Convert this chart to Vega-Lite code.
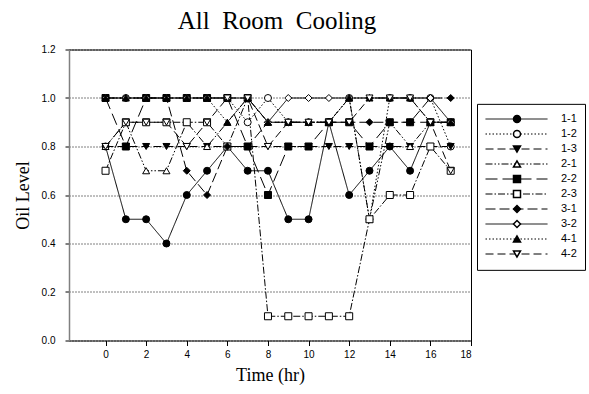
{
"$schema":"https://vega.github.io/schema/vega-lite/v6.json",
"width":402,"height":291,
"autosize":"none",
"padding":{"left":69,"top":49.5,"right":118,"bottom":53.5},
"background":"white",
"config":{
 "view":{"stroke":null},
 "axis":{"labelFont":"Liberation Sans","labelFontSize":10,"labelColor":"black","tickColor":"black","domainColor":"black","titleFont":"Liberation Serif","titleFontSize":18,"titleFontWeight":"normal","titleColor":"black"}
},
"title":{"text":"All\u00a0 Room\u00a0 Cooling","font":"Liberation Serif","fontSize":25,"fontWeight":"normal","color":"black","anchor":"middle","dx":7,"offset":11},
"data":{"values":[
{"s":"1-1","t":0,"v":0.8},{"s":"1-1","t":1,"v":0.5},{"s":"1-1","t":2,"v":0.5},{"s":"1-1","t":3,"v":0.4},{"s":"1-1","t":4,"v":0.6},{"s":"1-1","t":5,"v":0.7},{"s":"1-1","t":6,"v":0.8},{"s":"1-1","t":7,"v":0.7},{"s":"1-1","t":8,"v":0.7},{"s":"1-1","t":9,"v":0.5},{"s":"1-1","t":10,"v":0.5},{"s":"1-1","t":11,"v":0.9},{"s":"1-1","t":12,"v":0.6},{"s":"1-1","t":13,"v":0.7},{"s":"1-1","t":14,"v":0.8},{"s":"1-1","t":15,"v":0.7},{"s":"1-1","t":16,"v":0.9},{"s":"1-1","t":17,"v":0.9},
{"s":"1-2","t":0,"v":1.0},{"s":"1-2","t":1,"v":1.0},{"s":"1-2","t":2,"v":1.0},{"s":"1-2","t":3,"v":1.0},{"s":"1-2","t":4,"v":1.0},{"s":"1-2","t":5,"v":1.0},{"s":"1-2","t":6,"v":1.0},{"s":"1-2","t":7,"v":0.9},{"s":"1-2","t":8,"v":1.0},{"s":"1-2","t":9,"v":0.9},{"s":"1-2","t":10,"v":0.9},{"s":"1-2","t":11,"v":0.9},{"s":"1-2","t":12,"v":1.0},{"s":"1-2","t":13,"v":0.5},{"s":"1-2","t":14,"v":1.0},{"s":"1-2","t":15,"v":1.0},{"s":"1-2","t":16,"v":1.0},{"s":"1-2","t":17,"v":0.8},
{"s":"1-3","t":0,"v":0.8},{"s":"1-3","t":1,"v":0.8},{"s":"1-3","t":2,"v":0.8},{"s":"1-3","t":3,"v":0.8},{"s":"1-3","t":4,"v":0.8},{"s":"1-3","t":5,"v":0.8},{"s":"1-3","t":6,"v":0.8},{"s":"1-3","t":7,"v":0.8},{"s":"1-3","t":8,"v":0.8},{"s":"1-3","t":9,"v":0.8},{"s":"1-3","t":10,"v":0.8},{"s":"1-3","t":11,"v":0.8},{"s":"1-3","t":12,"v":0.8},{"s":"1-3","t":13,"v":0.8},{"s":"1-3","t":14,"v":0.8},{"s":"1-3","t":15,"v":0.8},{"s":"1-3","t":16,"v":0.8},{"s":"1-3","t":17,"v":0.8},
{"s":"2-1","t":0,"v":0.8},{"s":"2-1","t":1,"v":0.9},{"s":"2-1","t":2,"v":0.7},{"s":"2-1","t":3,"v":0.7},{"s":"2-1","t":4,"v":0.9},{"s":"2-1","t":5,"v":0.8},{"s":"2-1","t":6,"v":0.9},{"s":"2-1","t":7,"v":1.0},{"s":"2-1","t":8,"v":0.9},{"s":"2-1","t":9,"v":0.9},{"s":"2-1","t":10,"v":0.9},{"s":"2-1","t":11,"v":0.9},{"s":"2-1","t":12,"v":1.0},{"s":"2-1","t":13,"v":0.5},{"s":"2-1","t":14,"v":0.9},{"s":"2-1","t":15,"v":0.8},{"s":"2-1","t":16,"v":0.9},{"s":"2-1","t":17,"v":0.9},
{"s":"2-2","t":0,"v":1.0},{"s":"2-2","t":1,"v":0.8},{"s":"2-2","t":2,"v":1.0},{"s":"2-2","t":3,"v":1.0},{"s":"2-2","t":4,"v":1.0},{"s":"2-2","t":5,"v":1.0},{"s":"2-2","t":6,"v":1.0},{"s":"2-2","t":7,"v":0.8},{"s":"2-2","t":8,"v":0.6},{"s":"2-2","t":9,"v":0.8},{"s":"2-2","t":10,"v":0.8},{"s":"2-2","t":11,"v":0.9},{"s":"2-2","t":12,"v":0.9},{"s":"2-2","t":13,"v":0.8},{"s":"2-2","t":14,"v":0.9},{"s":"2-2","t":15,"v":0.9},{"s":"2-2","t":16,"v":0.9},{"s":"2-2","t":17,"v":0.9},
{"s":"2-3","t":0,"v":0.7},{"s":"2-3","t":1,"v":0.9},{"s":"2-3","t":2,"v":0.9},{"s":"2-3","t":3,"v":0.9},{"s":"2-3","t":4,"v":0.9},{"s":"2-3","t":5,"v":0.9},{"s":"2-3","t":6,"v":0.8},{"s":"2-3","t":7,"v":1.0},{"s":"2-3","t":8,"v":0.1},{"s":"2-3","t":9,"v":0.1},{"s":"2-3","t":10,"v":0.1},{"s":"2-3","t":11,"v":0.1},{"s":"2-3","t":12,"v":0.1},{"s":"2-3","t":13,"v":0.5},{"s":"2-3","t":14,"v":0.6},{"s":"2-3","t":15,"v":0.6},{"s":"2-3","t":16,"v":0.8},{"s":"2-3","t":17,"v":0.7},
{"s":"3-1","t":0,"v":1.0},{"s":"3-1","t":1,"v":1.0},{"s":"3-1","t":2,"v":1.0},{"s":"3-1","t":3,"v":1.0},{"s":"3-1","t":4,"v":0.7},{"s":"3-1","t":5,"v":0.6},{"s":"3-1","t":6,"v":0.8},{"s":"3-1","t":7,"v":0.8},{"s":"3-1","t":8,"v":0.9},{"s":"3-1","t":9,"v":0.9},{"s":"3-1","t":10,"v":0.9},{"s":"3-1","t":11,"v":0.9},{"s":"3-1","t":12,"v":0.9},{"s":"3-1","t":13,"v":0.9},{"s":"3-1","t":14,"v":0.9},{"s":"3-1","t":15,"v":0.9},{"s":"3-1","t":16,"v":1.0},{"s":"3-1","t":17,"v":1.0},
{"s":"3-2","t":0,"v":1.0},{"s":"3-2","t":1,"v":1.0},{"s":"3-2","t":2,"v":1.0},{"s":"3-2","t":3,"v":1.0},{"s":"3-2","t":4,"v":1.0},{"s":"3-2","t":5,"v":1.0},{"s":"3-2","t":6,"v":1.0},{"s":"3-2","t":7,"v":1.0},{"s":"3-2","t":8,"v":0.9},{"s":"3-2","t":9,"v":1.0},{"s":"3-2","t":10,"v":1.0},{"s":"3-2","t":11,"v":1.0},{"s":"3-2","t":12,"v":1.0},{"s":"3-2","t":13,"v":1.0},{"s":"3-2","t":14,"v":1.0},{"s":"3-2","t":15,"v":1.0},{"s":"3-2","t":16,"v":1.0},{"s":"3-2","t":17,"v":0.9},
{"s":"4-1","t":0,"v":1.0},{"s":"4-1","t":1,"v":1.0},{"s":"4-1","t":2,"v":1.0},{"s":"4-1","t":3,"v":1.0},{"s":"4-1","t":4,"v":1.0},{"s":"4-1","t":5,"v":1.0},{"s":"4-1","t":6,"v":0.9},{"s":"4-1","t":7,"v":1.0},{"s":"4-1","t":8,"v":0.9},{"s":"4-1","t":9,"v":0.9},{"s":"4-1","t":10,"v":0.9},{"s":"4-1","t":11,"v":0.9},{"s":"4-1","t":12,"v":1.0},{"s":"4-1","t":13,"v":1.0},{"s":"4-1","t":14,"v":1.0},{"s":"4-1","t":15,"v":1.0},{"s":"4-1","t":16,"v":0.9},{"s":"4-1","t":17,"v":0.9},
{"s":"4-2","t":0,"v":0.8},{"s":"4-2","t":1,"v":0.9},{"s":"4-2","t":2,"v":0.9},{"s":"4-2","t":3,"v":0.9},{"s":"4-2","t":4,"v":0.8},{"s":"4-2","t":5,"v":0.9},{"s":"4-2","t":6,"v":1.0},{"s":"4-2","t":7,"v":1.0},{"s":"4-2","t":8,"v":0.8},{"s":"4-2","t":9,"v":0.9},{"s":"4-2","t":10,"v":0.9},{"s":"4-2","t":11,"v":0.9},{"s":"4-2","t":12,"v":0.9},{"s":"4-2","t":13,"v":1.0},{"s":"4-2","t":14,"v":1.0},{"s":"4-2","t":15,"v":1.0},{"s":"4-2","t":16,"v":0.9},{"s":"4-2","t":17,"v":0.7}
]},
"layer":[
 {"mark":{"type":"line","color":"black","strokeWidth":1},
  "encoding":{
   "x":{"field":"t","type":"quantitative","scale":{"domain":[-1.8,18],"nice":false,"zero":false},
        "axis":{"orient":"bottom","values":[0,2,4,6,8,10,12,14,16,18],"tickSize":5,"labelPadding":4,"title":"Time (hr)","titlePadding":7,"grid":false,"domainColor":"black"}},
   "y":{"field":"v","type":"quantitative","scale":{"domain":[0,1.2],"nice":false,"zero":true},
        "axis":{"orient":"left","values":[0,0.2,0.4,0.6,0.8,1.0,1.2],"format":".1f","tickSize":4,"labelPadding":10,"title":"Oil Level","titlePadding":9,"grid":true,"gridColor":"black","gridDash":[1,2],"gridWidth":1,"domainColor":"#808080","domainWidth":1.5}},
   "strokeDash":{"field":"s","type":"nominal",
        "scale":{"range":[[1,0],[1.5,2],[8,4],[7,2,1.5,2,1.5,2],[12,5],[7,2,1.5,2],[10,4],[1,0],[1.5,2],[8,4]]},
        "legend":{"orient":"none","legendX":408,"legendY":54.35,"title":null,"symbolType":"stroke","symbolSize":3844,"symbolStrokeColor":"black","symbolStrokeWidth":1,"clipHeight":14.3,"rowPadding":0,"padding":8,"strokeColor":"black","labelFont":"Liberation Sans","labelFontSize":11,"labelColor":"black","labelOffset":13,"zindex":0}}
  }},
 {"mark":{"type":"point","filled":true,"stroke":"black","strokeWidth":1,"opacity":1},
  "encoding":{
   "x":{"field":"t","type":"quantitative","axis":{"orient":"top","labels":false,"ticks":false,"title":null,"grid":false,"domainColor":"black"}},
   "y":{"field":"v","type":"quantitative","axis":{"orient":"right","labels":false,"ticks":false,"title":null,"grid":false,"domainColor":"black"}},
   "shape":{"field":"s","type":"nominal",
        "scale":{"domain":["1-1","1-2","1-3","2-1","2-2","2-3","3-1","3-2","4-1","4-2"],"range":["circle","circle","triangle-down","triangle-up","square","square","diamond","diamond","triangle-up","triangle-down"]},
        "legend":{"orient":"none","legendX":443,"legendY":62.35,"title":null,"clipHeight":14.3,"rowPadding":0,"padding":0,"labelOpacity":0,"zindex":1,
          "encode":{"symbols":{"stroke":{"value":"black"},"strokeWidth":{"value":1}}}}},
   "fill":{"field":"s","type":"nominal",
        "scale":{"domain":["1-1","1-2","1-3","2-1","2-2","2-3","3-1","3-2","4-1","4-2"],"range":["black","white","black","white","black","white","black","white","black","white"]},
        "legend":{"orient":"none","legendX":443,"legendY":62.35,"title":null,"clipHeight":14.3,"rowPadding":0,"padding":0,"labelOpacity":0,"zindex":1,
          "encode":{"symbols":{"stroke":{"value":"black"},"strokeWidth":{"value":1}}}}},
   "size":{"field":"s","type":"nominal",
        "scale":{"domain":["1-1","1-2","1-3","2-1","2-2","2-3","3-1","3-2","4-1","4-2"],"range":[49,49,56,56,42,42,72,72,56,56]},
        "legend":{"orient":"none","legendX":443,"legendY":62.35,"title":null,"clipHeight":14.3,"rowPadding":0,"padding":0,"labelOpacity":0,"zindex":1,
          "encode":{"symbols":{"stroke":{"value":"black"},"strokeWidth":{"value":1}}}}}
  }}
],
"resolve":{"axis":{"x":"independent","y":"independent"}}
}
